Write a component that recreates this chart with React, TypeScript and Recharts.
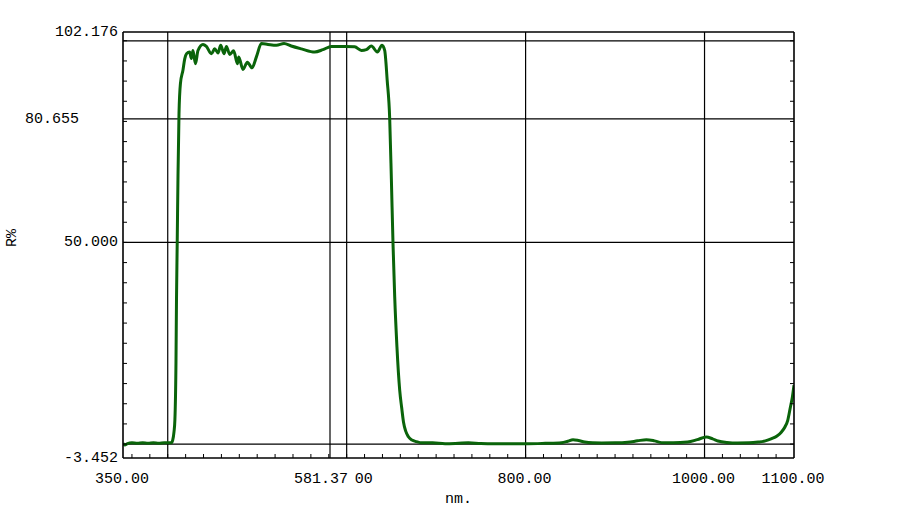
import { LineChart, Line, XAxis, YAxis, CartesianGrid } from 'recharts'

// wavelength (nm) and reflectance (R%)
const wavelength = [
  350, 352, 355, 360, 366, 372, 378, 384, 390, 396, 402, 404, 405.5, 407, 408, 409.2, 409.8, 410.6, 411.5, 412.6,
  414.2, 417, 419, 421, 424.5, 426.4, 428.2, 431, 433.8, 439.4, 443.2, 448.8, 452.5, 456.2, 459.2, 462.9, 465.6,
  469.3, 473.7, 477.9, 479.3, 484.1, 489, 494.2, 499.1, 504.7, 512, 521.5, 530, 538, 549.4, 564.3, 573.5, 583, 598,
  609, 616.5, 622, 627.6, 634.3, 639.5, 642.5, 645.3, 648.1, 650, 651.8, 653.7, 656.2, 659.3, 661.5, 663.5, 666,
  669, 673, 678, 684, 696, 710, 725, 736, 750, 765, 785, 803, 822, 840, 847, 853, 859, 866, 875, 885, 900, 914, 925,
  935, 944, 952, 965, 981, 992, 1002, 1009, 1015, 1025, 1037, 1050, 1060, 1068, 1075, 1081, 1086, 1090, 1093, 1096,
  1098.2, 1100,
]
const reflectance = [
  0.2, -0.2, 0.1, 0.3, 0.2, 0.3, 0.2, 0.3, 0.2, 0.3, 0.3, 0.3, 0.9, 3.0, 6, 20, 36, 50, 67, 82,
  89.4, 92.7, 95.5, 96.8, 97.2, 95.6, 97.6, 94.3, 97.6, 99.1, 98.6, 96.8, 98.0, 97.0, 98.9, 96.8, 98.6,
  96.6, 97.5, 94.3, 96.0, 92.9, 94.7, 93.3, 96.0, 99.3, 99.1, 98.9, 99.3, 98.7, 98.0, 97.2, 97.8, 98.6, 98.6,
  98.5, 97.6, 97.8, 98.7, 97.2, 98.9, 97.6, 90.2, 80.7, 65.4, 49.7, 36.5, 24.1, 13.3, 9, 5.5, 3.2,
  1.8, 1.0, 0.6, 0.3, 0.3, 0.1, 0.2, 0.3, 0.15, 0.1, 0.1, 0.1, 0.2, 0.35, 0.7, 1.1, 0.9, 0.5, 0.3, 0.27, 0.3, 0.45, 0.8,
  1.1, 0.8, 0.36, 0.3, 0.5, 1.1, 1.75, 1.3, 0.77, 0.4, 0.27, 0.3, 0.5, 0.8, 1.35, 2.0, 3.0, 4.3, 5.9, 9.2,
  11.7, 14.6,
]

const xLabels = [350, 600, 581.37, 800, 1000, 1100]
const yLabels = [102.176, 80.655, 50, -3.452]
const xGrid = [400, 581.37, 600, 800, 1000]
const yGrid = [100, 80.655, 50, 0]
const xMinor = Array.from({ length: 37 }, (_, i) => 360 + i * 20)
const yMinor = Array.from({ length: 21 }, (_, i) => i * 5)

const data = wavelength.map((nm, i) => ({ nm, r: reflectance[i] }))

const font = "'Liberation Mono', 'DejaVu Sans Mono', monospace"
const INK = '#000'

function BottomTick(props: any) {
  const { x, y, payload } = props
  const v = payload.value
  const isLabel = xLabels.includes(v)
  const shift = v === 581.37 ? -9 : -1
  return (
    <g>
      {xMinor.includes(v) && <line x1={x} x2={x} y1={y} y2={y - 4} stroke={INK} strokeWidth={1} />}
      {isLabel && v === 581.37 && <rect x={x + shift - 29} y={y + 12} width={60} height={18} fill="#fff" />}
      {isLabel && (
        <text x={x + shift} y={y + 25} textAnchor="middle" fontFamily={font} fontSize={15} fill={INK}>
          {v.toFixed(2)}
        </text>
      )}
    </g>
  )
}

function TopTick(props: any) {
  const { x, y } = props
  return <line x1={x} x2={x} y1={y} y2={y + 4} stroke={INK} strokeWidth={1} />
}

function LeftTick(props: any) {
  const { x, y, payload } = props
  const v = payload.value
  const shift = v === 80.655 ? -44 : -5
  return (
    <g>
      {yMinor.includes(v) && <line x1={x} x2={x + 4} y1={y} y2={y} stroke={INK} strokeWidth={1} />}
      {yLabels.includes(v) && (
        <text x={x + shift} y={y + 4} textAnchor="end" fontFamily={font} fontSize={15} fill={INK}>
          {v.toFixed(3)}
        </text>
      )}
    </g>
  )
}

function RightTick(props: any) {
  const { x, y } = props
  return <line x1={x - 4} x2={x} y1={y} y2={y} stroke={INK} strokeWidth={1} />
}

const xTitle = (p: any) => {
  const vb = p.viewBox || { x: 123, y: 458, width: 671 }
  return (
    <text x={vb.x + vb.width / 2} y={vb.y + 45} textAnchor="middle" fontFamily={font} fontSize={15} fill={INK}>
      nm.
    </text>
  )
}

const yTitle = (p: any) => {
  const vb = p.viewBox || { x: 122, y: 32, width: 1, height: 426 }
  const cx = vb.x - 110
  const cy = vb.y + vb.height / 2 - 7
  return (
    <text
      x={cx}
      y={cy}
      transform={`rotate(-90 ${cx} ${cy})`}
      textAnchor="middle"
      dominantBaseline="central"
      fontFamily={font}
      fontSize={15}
      fill={INK}
    >
      R%
    </text>
  )
}

export default function App() {
  const bottomTicks = [...xMinor.filter((v) => !xLabels.includes(v)), ...xLabels]
  const leftTicks = [...yMinor.filter((v) => !yLabels.includes(v)), ...yLabels]
  return (
    <div style={{ position: 'absolute', left: 0, top: 0, width: 917, height: 511, background: '#fff' }}>
      <LineChart width={917} height={511} data={data} margin={{ top: 31, right: 122, bottom: 52, left: 122 }}>
        <CartesianGrid
          xAxisId="b"
          yAxisId="l"
          stroke={INK}
          strokeWidth={1.2}
          verticalValues={xGrid}
          horizontalValues={yGrid}
        />
        <XAxis
          xAxisId="b"
          dataKey="nm"
          type="number"
          domain={[350, 1100]}
          allowDataOverflow
          ticks={bottomTicks}
          interval={0}
          height={1}
          tickSize={0}
          tickMargin={0}
          tickLine={false}
          axisLine={{ stroke: INK, strokeWidth: 1.6 }}
          tick={BottomTick}
          label={xTitle}
        />
        <XAxis
          xAxisId="t"
          orientation="top"
          type="number"
          domain={[350, 1100]}
          allowDataOverflow
          ticks={xMinor}
          interval={0}
          height={1}
          tickSize={0}
          tickMargin={0}
          tickLine={false}
          axisLine={{ stroke: INK, strokeWidth: 1.6 }}
          tick={TopTick}
        />
        <YAxis
          yAxisId="l"
          type="number"
          domain={[-3.452, 102.176]}
          allowDataOverflow
          ticks={leftTicks}
          interval={0}
          width={1}
          tickSize={0}
          tickMargin={0}
          tickLine={false}
          axisLine={{ stroke: INK, strokeWidth: 1.6 }}
          tick={LeftTick}
          label={yTitle}
        />
        <YAxis
          yAxisId="r"
          orientation="right"
          type="number"
          domain={[-3.452, 102.176]}
          allowDataOverflow
          ticks={yMinor}
          interval={0}
          width={1}
          tickSize={0}
          tickMargin={0}
          tickLine={false}
          axisLine={{ stroke: INK, strokeWidth: 1.6 }}
          tick={RightTick}
        />
        <Line
          xAxisId="b"
          yAxisId="l"
          type="monotone"
          dataKey="r"
          stroke="#0a640a"
          strokeWidth={3}
          dot={false}
          activeDot={false}
          isAnimationActive={false}
        />
      </LineChart>
    </div>
  )
}
